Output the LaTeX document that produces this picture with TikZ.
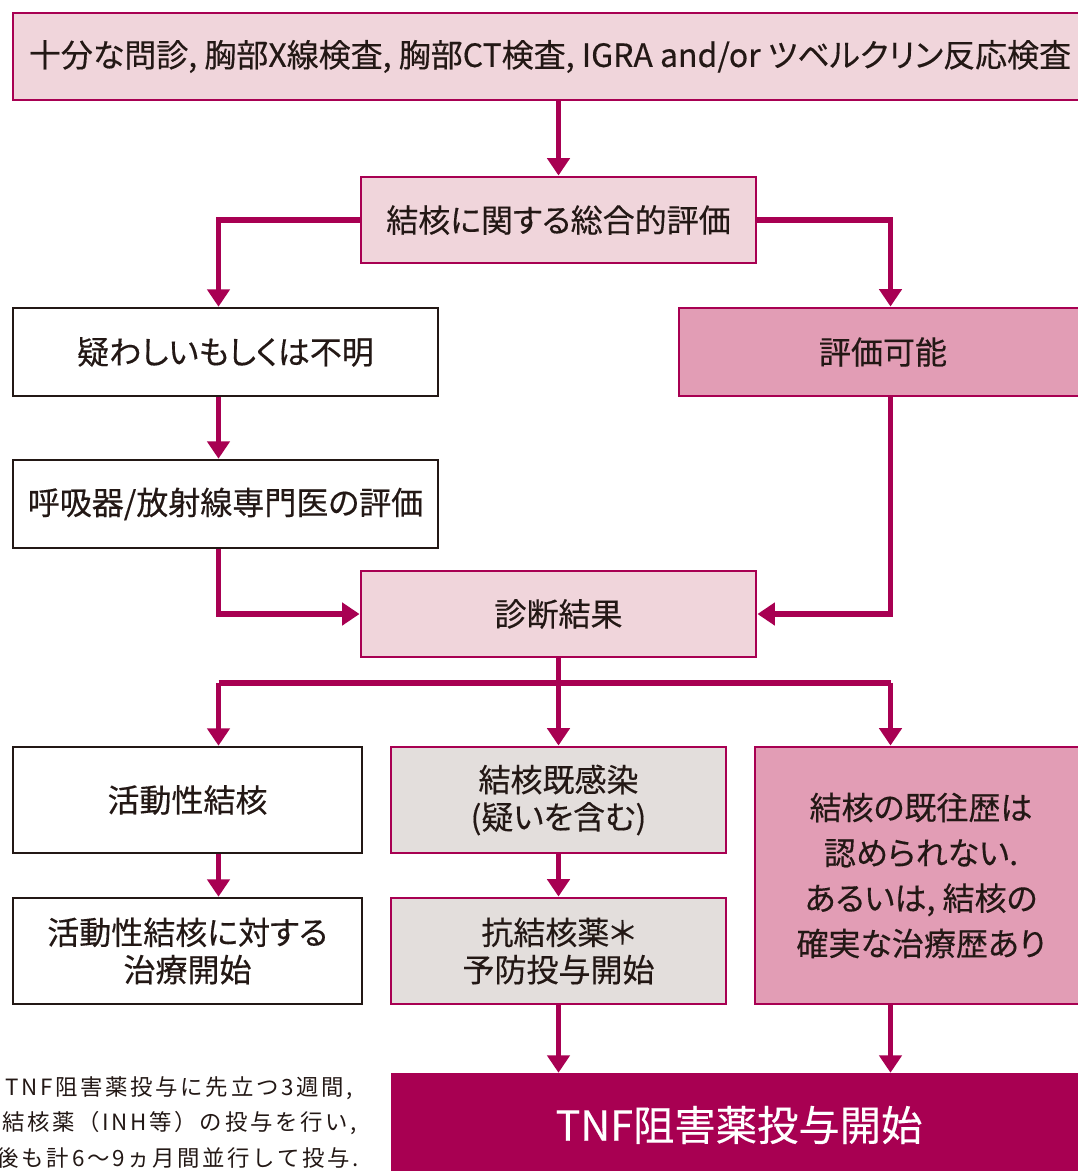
\documentclass[tikz,border=0pt]{standalone}
\usepackage{fontspec}
\setmainfont{Noto Sans CJK JP}[RawFeature=+palt, FakeBold=0.35]
\newfontfamily\notefont{Noto Sans CJK JP}[LetterSpace=12]
\usetikzlibrary{arrows.meta,calc}
\definecolor{mag}{RGB}{168,0,82}
\definecolor{lpink}{RGB}{240,213,219}
\definecolor{mpink}{RGB}{226,157,181}
\definecolor{lgrey}{RGB}{227,222,220}
\definecolor{ink}{RGB}{35,24,21}
\tikzset{
  sz/.style 2 args={minimum width=#1*0.75pt, minimum height=#2*0.75pt},
  base/.style={inner sep=0pt, text=ink, align=center, font=\fontsize{24}{28}\selectfont},
  pinkbox/.style={base, draw=mag, fill=lpink, line width=2.2pt},
  midbox/.style={base, draw=mag, fill=mpink, line width=2.2pt},
  greybox/.style={base, draw=mag, fill=lgrey, line width=2.2pt},
  whitebox/.style={base, draw=ink, fill=white, line width=1.9pt},
  tnfbox/.style={base, draw=none, fill=mag, text=white, font=\fontsize{31}{36}\selectfont},
  conn/.style={draw=mag, line width=4.3pt},
  arr/.style={conn, -{Triangle[width=16.5pt,length=13pt]}},
  note/.style={inner sep=0pt, anchor=east, text=ink, font=\notefont\fontsize{16.8}{20}\selectfont}
}
\begin{document}
\begin{tikzpicture}[x=0.75pt,y=-0.75pt]
\useasboundingbox (0,0) rectangle (1078,1171);
\clip (0,0) rectangle (1078,1171);
\coordinate (colL) at (218.5,0);
\coordinate (colR) at (890.5,0);
\coordinate (split) at (558.5,683);

\node[pinkbox, sz={1074}{87}] (B0) at (550,56.5) {十分な問診, 胸部X線検査, 胸部CT検査, IGRA and/or ツベルクリン反応検査};
\node[pinkbox, sz={395}{86}] (B1) at (558.5,220) {結核に関する総合的評価};
\node[whitebox, sz={425}{88}] (B2) at (225.5,352) {疑わしいもしくは不明};
\node[midbox, sz={408}{88}] (B3) at (883,352) {評価可能};
\node[whitebox, sz={425}{88}] (B4) at (225.5,504) {呼吸器/放射線専門医の評価};
\node[pinkbox, sz={395}{86}] (B5) at (558.5,614) {診断結果};
\node[whitebox, sz={349}{106}] (B6) at (187.5,800) {活動性結核};
\node[greybox, sz={335}{106}] (B7) at (558.5,800) {結核既感染\\(疑いを含む)};
\node[midbox, sz={332}{257}, font=\fontsize{24}{34}\selectfont] (B8) at (921,875.5) {結核の既往歴は\\認められない.\\あるいは, 結核の\\確実な治療歴あり};
\node[whitebox, sz={349}{106}] (B9) at (187.5,951) {活動性結核に対する\\治療開始};
\node[greybox, sz={335}{106}] (B10) at (558.5,951) {抗結核薬＊\\予防投与開始};
\node[tnfbox, sz={696}{104}] (B11) at (739,1125) {TNF阻害薬投与開始};

\node[note] (N1) at (353,1088) {＊TNF阻害薬投与に先立つ3週間,};
\node[note] (N2) at (357,1123) {抗結核薬（INH等）の投与を行い,};
\node[note] (N3) at (359,1158) {その後も計6～9ヵ月間並行して投与.};

% connectors
\draw[arr] (B1.north |- B0.south) -- (B1.north);
\draw[arr] (B1.west) -| (B2.north -| colL);
\draw[arr] (B1.east) -| (B3.north -| colR);
\draw[arr] (B2.south -| colL) -- (B4.north -| colL);
\draw[arr] (B4.south -| colL) |- (B5.west);
\draw[arr] (B3.south -| colR) |- (B5.east);
\draw[conn] (B5.south) -- (split);
\draw[conn] (split -| colL) -- (split -| colR);
\draw[arr] (split -| colL) -- (B6.north -| colL);
\draw[arr] (split) -- (B7.north);
\draw[arr] (split -| colR) -- (B8.north -| colR);
\draw[arr] (B6.south -| colL) -- (B9.north -| colL);
\draw[arr] (B7.south) -- (B10.north);
\draw[arr] (B10.south) -- (B11.north -| B10.south);
\draw[arr] (B8.south -| colR) -- (B11.north -| colR);
\end{tikzpicture}
\end{document}
